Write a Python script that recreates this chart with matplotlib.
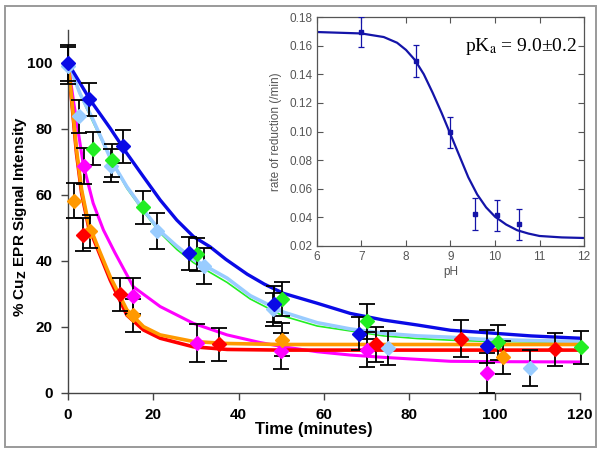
import matplotlib
matplotlib.use("Agg")
import matplotlib.pyplot as plt
from matplotlib.patches import Rectangle

# ---------------- main panel data ----------------
blue_t = [0, 4.9, 12.9, 28.4, 48.2, 68.3, 98.1]
blue_v = [100, 89, 74.8, 42.4, 27, 17.9, 14.2]
blue_e = [5.5, 5, 5, 5, 5.5, 5, 5]

lblue_t = [0, 2.6, 10.1, 20.8, 31.9, 48, 75.1, 108.2]
lblue_v = [99.2, 83.9, 68.8, 49, 38.5, 25.4, 13.6, 7.6]
lblue_e = [5.5, 5, 5, 5.5, 5.5, 5, 5.2, 5.5]

green_t = [5.8, 10.3, 17.5, 30.2, 50.1, 70, 100.7, 120.2]
green_v = [74, 70.6, 56.3, 42, 28.5, 21.8, 15.4, 13.9]
green_e = [5, 5, 5, 5, 5.2, 5.3, 5.3, 5]

mag_t = [3.8, 15.2, 30.2, 50, 70, 98.3]
mag_v = [68.8, 29.4, 15.2, 12.8, 13.1, 6.1]
mag_e = [5.5, 5.5, 5.8, 5.5, 5.3, 6]

orange_t = [1.5, 5.2, 15.3, 50.1, 102]
orange_v = [58.3, 49, 23.6, 16.1, 10.9]
orange_e = [5.3, 5, 5, 5, 5]

red_t = [3.6, 12.3, 35.3, 72.2, 92.2, 114.2]
red_v = [48, 30, 14.7, 14.7, 16.5, 13.3]
red_e = [5, 5, 5, 5.3, 5.5, 5]

# fitted curves
blue_ct = [0, 5.2, 9.9, 13.8, 17.7, 21.6, 25.5, 29.4, 33.3, 37, 42, 46, 50.5, 58.4, 66.2, 74, 81.9, 89.7, 96.7, 108.5, 120]
blue_cv = [100, 88.8, 80.2, 72.6, 65.5, 58.5, 52.4, 47.4, 44.3, 40.5, 36, 33, 30.2, 27.2, 24.1, 22.1, 20.6, 19, 18.4, 17.3, 16.6]

lblue_ct = [0, 2.8, 5.9, 10.3, 13.8, 17.7, 21.6, 25.5, 29.4, 37.3, 42.7, 50.5, 58.4, 66.2, 74, 81.9, 89.7, 96.7, 108.5, 120]
lblue_cv = [100, 90.8, 82.7, 70.1, 62.5, 55.5, 49, 44.5, 40.5, 34.8, 29.5, 24.5, 21.3, 19.4, 18.1, 17.3, 16.9, 16.3, 15.9, 15.6]

green_ct = [0, 2.8, 5.9, 10.3, 13.8, 17.7, 21.6, 25.5, 29.4, 37.3, 42.7, 50.5, 58.4, 66.2, 74, 81.9, 89.7, 96.7, 108.5, 120]
green_cv = [100, 90.5, 82, 70, 62, 55, 48.5, 43.5, 39.5, 33.5, 28.5, 23.3, 20.3, 18.8, 17.3, 16.5, 16.0, 15.7, 15.5, 15.4]

mag_ct = [0, 1.25, 3.6, 5.9, 8.3, 11, 15.3, 21.6, 29.4, 37.3, 45, 50.5, 58.4, 66.2, 74, 81.9, 89.7, 100.6, 120]
mag_cv = [100, 88.8, 69.1, 57.5, 49.4, 42.5, 32.2, 26.2, 21.1, 17.6, 15.3, 14.0, 12.5, 11.5, 10.8, 10.2, 9.6, 9.5, 9.4]

orange_ct = [0, 0.9, 2.0, 3.2, 4.8, 7.3, 9.9, 13.8, 17.7, 21.6, 29.4, 37.3, 50, 120]
orange_cv = [100, 88.8, 73.6, 61.5, 51.4, 43.3, 35.2, 25.2, 20.1, 17.6, 15.6, 15.0, 14.7, 14.7]

red_ct = [0, 0.9, 2.0, 3.2, 4.8, 7.3, 9.9, 13.8, 17.7, 21.6, 29.4, 37.3, 50, 120]
red_cv = [100, 88, 72.5, 60.5, 50.5, 42.5, 34.2, 23.6, 19.1, 16.6, 14.0, 13.2, 13.0, 13.0]

x_ticks = [0, 20, 40, 60, 80, 100, 120]
y_ticks = [0, 20, 40, 60, 80, 100]

# ---------------- inset data ----------------
ph_pts = [7.0, 8.22, 8.99, 9.55, 10.04, 10.55]
rate_pts = [0.1695, 0.1493, 0.0994, 0.0425, 0.0415, 0.0352]
rate_err = [0.0105, 0.011, 0.011, 0.011, 0.0107, 0.0107]

ph_curve = [6, 7, 7.5, 7.8, 8.0, 8.2, 8.4, 8.6, 8.8, 9.0, 9.2, 9.4, 9.6, 9.8, 10.0, 10.25, 10.5, 10.75, 11.0, 11.5, 12]
rate_curve = [0.1695, 0.1685, 0.166, 0.162, 0.157, 0.150, 0.140, 0.127, 0.113, 0.098, 0.083, 0.068,
              0.056, 0.047, 0.0405, 0.035, 0.031, 0.0287, 0.027, 0.026, 0.0256]
inset_xticks = [6, 7, 8, 9, 10, 11, 12]
inset_yticks = [0.02, 0.04, 0.06, 0.08, 0.10, 0.12, 0.14, 0.16, 0.18]

plt.rcParams['font.family'] = ['Liberation Sans', 'DejaVu Sans']

W, H = 602, 455
fig = plt.figure(figsize=(W / 100, H / 100), dpi=100)
fig.patch.set_facecolor('white')

# outer frame
fig.add_artist(Rectangle((5 / W, 1 - 447 / H), 591 / W, 441 / H, transform=fig.transFigure,
                         fill=False, edgecolor='#9a9a9a', lw=1.4))

ax = fig.add_axes([68 / W, 1 - 393 / H, (580 - 68) / W, (393 - 30) / H])
ax.set_xlim(0, 120)
ax.set_ylim(0, 110)
for s in ['top', 'right']:
    ax.spines[s].set_visible(False)
for s in ['left', 'bottom']:
    ax.spines[s].set_color('#444444')
    ax.spines[s].set_linewidth(1.0)
ax.set_xticks(x_ticks)
ax.set_yticks(y_ticks)
ax.tick_params(direction='out', length=5, width=1, color='#444444', labelsize=11, pad=6)
for lab in ax.get_xticklabels() + ax.get_yticklabels():
    lab.set_fontweight('bold')

# curves
ax.plot(green_ct, green_cv, color='#22EE22', lw=1.2, zorder=2)
ax.plot(lblue_ct, lblue_cv, color='#99CCFF', lw=2.6, zorder=2.1)
ax.plot(blue_ct, blue_cv, color='#0A0AE6', lw=2.4, zorder=2.2)
ax.plot(mag_ct, mag_cv, color='#FF00FF', lw=2.2, zorder=2.3)
ax.plot(red_ct, red_cv, color='#FF0000', lw=2.6, zorder=2.4)
ax.plot(orange_ct, orange_cv, color='#FF9900', lw=2.6, zorder=2.5)

series = [
    (lblue_t, lblue_v, lblue_e, '#99CCFF'),
    (green_t, green_v, green_e, '#22EE22'),
    (mag_t, mag_v, mag_e, '#FF00FF'),
    (orange_t, orange_v, orange_e, '#FF9900'),
    (red_t, red_v, red_e, '#FF0000'),
    (blue_t, blue_v, blue_e, '#0A0AE6'),
]
for i, (t, v, e, c) in enumerate(series):
    ax.errorbar(t, v, yerr=e, fmt='none', ecolor='black', elinewidth=1.3, capsize=5.5,
                capthick=1.3, zorder=3, clip_on=False)
for i, (t, v, e, c) in enumerate(series):
    ax.plot(t, v, linestyle='none', marker='D', markersize=7.5, color=c, mec=c, zorder=4 + i * 0.01,
            clip_on=False)

ax.set_xlabel('Time (minutes)', fontsize=12, fontweight='bold', labelpad=0)
ax.xaxis.set_label_coords((314 - 68) / (580 - 68), -(422 - 393) / (393 - 30))
ax.set_ylabel('% Cu$_\\mathbf{Z}$ EPR Signal Intensity', fontsize=11, fontweight='bold')
ax.yaxis.set_label_coords(-(68 - 29) / (580 - 68), (393 - 217) / (393 - 30))

# ---------------- inset ----------------
ins = fig.add_axes([317 / W, 1 - 246 / H, (584 - 317) / W, (246 - 17) / H])
ins.set_facecolor('white')
ins.set_zorder(10)
ins.set_xlim(6, 12)
ins.set_ylim(0.02, 0.18)
ins.set_xticks(inset_xticks)
ins.set_yticks(inset_yticks)
ins.set_yticklabels(['%.2f' % y for y in inset_yticks])
for s in ins.spines.values():
    s.set_color('#555555')
    s.set_linewidth(0.9)
ins.tick_params(direction='in', length=4, width=0.8, colors='#555555', labelcolor='#555555',
                labelsize=8.5, top=True, right=True)
ins.plot(ph_curve, rate_curve, color='#1414A8', lw=1.6, zorder=2)
ins.errorbar(ph_pts, rate_pts, yerr=rate_err, fmt='s', color='#1414A8', ms=3.5, elinewidth=0.9,
             capsize=2.5, capthick=0.9, zorder=3)
ins.set_xlabel('pH', fontsize=8.5, color='#555555', labelpad=2)
ins.set_ylabel('rate of reduction (/min)', fontsize=8.5, color='#555555', labelpad=5)
ins.text(0.975, 0.87, 'pK$_\\mathrm{a}$ = 9.0\u00b10.2', transform=ins.transAxes, ha='right', va='center',
         fontsize=14, family=['Liberation Serif', 'DejaVu Serif'], math_fontfamily='stix')

fig.savefig('out.png', dpi=100, facecolor='white')
